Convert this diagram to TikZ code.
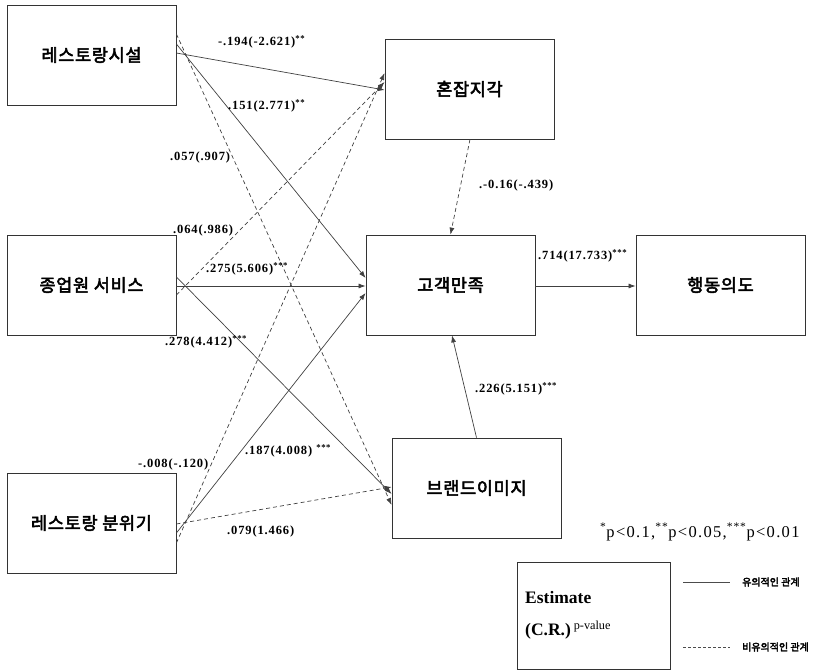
\documentclass[tikz,border=0pt]{standalone}
\usepackage{fontspec}
\setmainfont{Liberation Serif}
\newfontfamily\krfont{Noto Sans CJK KR}[AutoFakeBold=3]
\usepackage{tikz}
\usetikzlibrary{arrows.meta}

\tikzset{
  var/.style={rectangle, draw=black!80, line width=0.8pt, minimum width=169pt, minimum height=100pt,
    font=\krfont\bfseries\fontsize{17.5}{19}\selectfont\addfontfeature{LetterSpace=4}},
  sig/.style={draw=black!75, line width=0.7pt, -{Latex[length=7pt,width=5pt]}},
  nsig/.style={sig, dash pattern=on 4pt off 3pt},
  coef/.style={font=\bfseries\fontsize{12.5}{14}\selectfont\addfontfeature{LetterSpace=7}, inner sep=0pt, anchor=west},
  keytxt/.style={font=\krfont\bfseries\fontsize{10}{12}\selectfont, inner sep=0pt, anchor=west},
}

\begin{document}
\begin{tikzpicture}[x=1pt, y=-1pt]
		\useasboundingbox (0,0) rectangle (825,671);
		% Nodes
		\node [var] (fac) at (91.5,55) {레스토랑시설};
		\node [var] (crowd) at (469.5,89) {혼잡지각};
		\node [var] (serv) at (91.5,285) {종업원 서비스};
		\node [var] (sat) at (450.5,285) {고객만족};
		\node [var] (intent) at (720.5,285) {행동의도};
		\node [var] (brand) at (476.5,488) {브랜드이미지};
		\node [var] (atm) at (91.5,523) {레스토랑 분위기};
		
		% Arrows
		\draw [sig] ([yshift=2pt]fac.east) -- ([yshift=-1pt]crowd.west);
		\draw [sig] ([yshift=11pt]fac.east) -- ([yshift=7pt]sat.west);
		\draw [nsig] ([yshift=21pt]fac.east) -- ([yshift=-17pt]brand.west);
		\draw [nsig] ([yshift=-10pt]serv.east) -- ([yshift=7pt]crowd.west);
		\draw [sig] ([yshift=-1pt]serv.east) -- ([yshift=-1pt]sat.west);
		\draw [sig] ([yshift=8pt]serv.east) -- ([yshift=-6pt]brand.west);
		\draw [nsig] ([yshift=-20pt]atm.east) -- ([yshift=16pt]crowd.west);
		\draw [sig] ([yshift=-10pt]atm.east) -- ([yshift=-8pt]sat.west);
		\draw [nsig] ([yshift=-1pt]atm.east) -- ([yshift=1pt]brand.west);
		\draw [nsig] ([xshift=0.5pt]crowd.south) -- (sat.north);
		\draw [sig] (brand.north) -- ([xshift=1.5pt]sat.south);
		\draw [sig] ([yshift=-1pt]sat.east) -- ([yshift=-1pt]intent.west);
		
		% Estimates
		\node [coef] (c1) at (218,42) {-.194(-2.621)\textsuperscript{**}};
		\node [coef] (c2) at (228,106) {.151(2.771)\textsuperscript{**}};
		\node [coef] (c3) at (170,157) {.057(.907)};
		\node [coef] (c4) at (173,230) {.064(.986)};
		\node [coef] (c5) at (206,269) {.275(5.606)\textsuperscript{***}};
		\node [coef] (c6) at (165,342) {.278(4.412)\textsuperscript{***}};
		\node [coef] (c7) at (138,464) {-.008(-.120)};
		\node [coef] (c8) at (245,451) {.187(4.008) \textsuperscript{***}};
		\node [coef] (c9) at (227,531) {.079(1.466)};
		\node [coef] (c10) at (479,185) {.-0.16(-.439)};
		\node [coef] (c11) at (538,256) {.714(17.733)\textsuperscript{***}};
		\node [coef] (c12) at (475,389) {.226(5.151)\textsuperscript{***}};
		
		% Legend
		\node [font=\fontsize{16.5}{18}\selectfont\addfontfeature{LetterSpace=8}, inner sep=0pt, anchor=west] (pval) at (600,532)
			{\textsuperscript{*}p<0.1,\textsuperscript{**}p<0.05,\textsuperscript{***}p<0.01};
		\node [draw=black!80, line width=0.8pt, minimum width=153pt, minimum height=107pt] (key) at (593.5,615.5) {};
		\node [font=\bfseries\fontsize{17.5}{19}\selectfont, inner sep=0pt, anchor=west] (est) at (525,598) {Estimate};
		\node [font=\bfseries\fontsize{17.5}{19}\selectfont, inner sep=0pt, anchor=west] (cr) at (525,630)
			{(C.R.)\,\textsuperscript{\mdseries p-value}};
		\node [keytxt] (sigtxt) at (742,582) {유의적인 관계};
		\node [keytxt] (nsigtxt) at (742,647) {비유의적인 관계};
		\coordinate (s1) at (683,582);
		\coordinate (n1) at (683,647);
		\draw [draw=black!70, line width=0.7pt] (s1) -- ([xshift=-12pt]sigtxt.west);
		\draw [draw=black!70, line width=0.7pt, dash pattern=on 3pt off 2pt] (n1) -- ([xshift=-12pt]nsigtxt.west);
	\end{tikzpicture}
\end{document}
